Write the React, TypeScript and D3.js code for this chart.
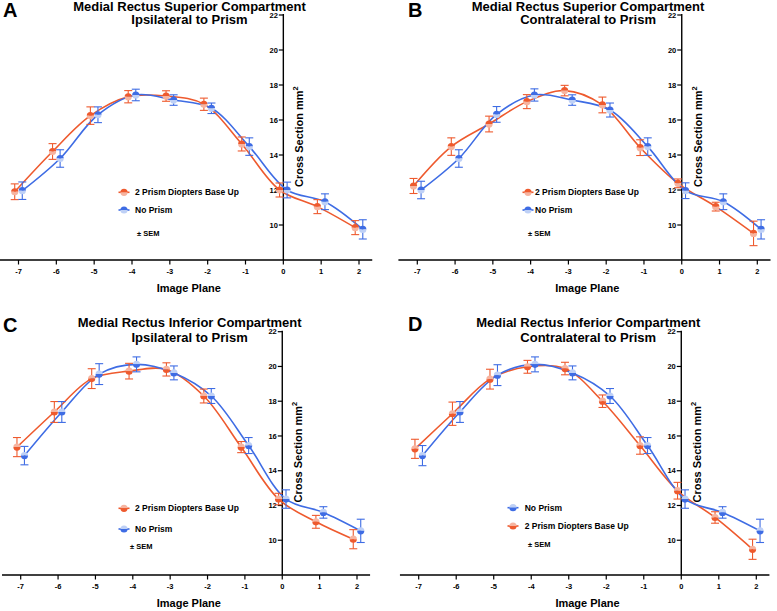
import React from "react";
import * as d3 from "d3";

const planes = [-7, -6, -5, -4, -3, -2, -1, 0, 1, 2];
const yTicks = [10, 12, 14, 16, 18, 20, 22];

const PRISM = "2 Prism Diopters Base Up";
const NOPRISM = "No Prism";

// Panel A
const aPrism = [11.9, 14.2, 16.25, 17.33, 17.37, 16.9, 14.63, 12.0, 11.05, 9.85];
const aPrismSem = [0.45, 0.45, 0.5, 0.35, 0.3, 0.35, 0.4, 0.4, 0.4, 0.4];
const aNo = [11.96, 13.8, 16.3, 17.43, 17.14, 16.67, 14.48, 12.0, 11.33, 9.75];
const aNoSem = [0.5, 0.5, 0.45, 0.33, 0.3, 0.3, 0.5, 0.45, 0.45, 0.55];
// Panel B
const bPrism = [12.23, 14.48, 15.77, 17.05, 17.68, 16.86, 14.42, 12.38, 11.05, 9.52];
const bPrismSem = [0.43, 0.5, 0.45, 0.4, 0.3, 0.45, 0.45, 0.25, 0.25, 0.7];
const bNo = [12.0, 13.8, 16.32, 17.43, 17.14, 16.57, 14.48, 11.96, 11.33, 9.75];
const bNoSem = [0.5, 0.5, 0.45, 0.35, 0.3, 0.4, 0.5, 0.45, 0.45, 0.55];
// Panel C
const cPrism = [15.36, 17.38, 19.3, 19.73, 19.83, 18.3, 15.36, 12.37, 11.06, 10.06];
const cPrismSem = [0.55, 0.6, 0.57, 0.45, 0.38, 0.4, 0.32, 0.33, 0.37, 0.55];
const cNo = [14.87, 17.38, 19.56, 20.12, 19.63, 18.3, 15.45, 12.37, 11.6, 10.54];
const cNoSem = [0.53, 0.6, 0.6, 0.43, 0.4, 0.43, 0.46, 0.53, 0.33, 0.67];
// Panel D
const dPrism = [15.26, 17.28, 19.27, 19.98, 19.88, 18.0, 15.45, 12.85, 11.31, 9.48];
const dPrismSem = [0.55, 0.67, 0.57, 0.37, 0.36, 0.36, 0.5, 0.48, 0.33, 0.58];
const dNo = [14.87, 17.38, 19.5, 20.12, 19.63, 18.3, 15.45, 12.37, 11.6, 10.54];
const dNoSem = [0.58, 0.6, 0.6, 0.43, 0.4, 0.43, 0.46, 0.53, 0.33, 0.67];

const ORANGE = "#EE5A2E";
const ORANGE_L = "#F6B4A0";
const BLUE = "#3E6CE4";
const BLUE_L = "#BED0F6";
const FONT = "'Liberation Sans', Arial, Helvetica, sans-serif";

type Series = { name: string; vals: number[]; sem: number[]; dark: string; light: string; dx: number };

type Cfg = {
  letter: string;
  lx: number; ly: number;
  title1: string; title2: string; t1y: number; t2y: number;
  x7: number; x2: number; yTop: number; yBot: number;
  topDark: boolean;
  series: Series[];
  legendOrder: number[];
  leg: { mx: number; tx: number; y1: number; y2: number; sx: number; sy: number };
};

const R = 3.6;
const topArc = d3.arc()({ innerRadius: 0, outerRadius: R, startAngle: -Math.PI / 2, endAngle: Math.PI / 2 } as any) as string;
const botArc = d3.arc()({ innerRadius: 0, outerRadius: R, startAngle: Math.PI / 2, endAngle: (3 * Math.PI) / 2 } as any) as string;

function Marker({ cx, cy, s, topDark }: { cx: number; cy: number; s: Series; topDark: boolean }) {
  return (
    <g transform={`translate(${cx},${cy})`}>
      <path d={topArc} fill={topDark ? s.dark : s.light} />
      <path d={botArc} fill={topDark ? s.light : s.dark} />
    </g>
  );
}

function Panel({ c }: { c: Cfg }) {
  const x = d3.scaleLinear().domain([-7, 2]).range([c.x7, c.x2]);
  const y = d3.scaleLinear().domain([8, 22]).range([c.yBot, c.yTop]);
  const ax = x(0);
  const line = d3
    .line<[number, number]>()
    .x((d) => x(d[0]))
    .y((d) => y(d[1]))
    .curve(d3.curveCatmullRom.alpha(0.5));
  return (
    <g fontFamily={FONT} fontWeight="bold">
      <text x={c.lx} y={c.ly} fontSize={20}>{c.letter}</text>
      <text x={x(-2.48)} y={c.t1y} fontSize={13} textAnchor="middle">{c.title1}</text>
      <text x={x(-2.48)} y={c.t2y} fontSize={13} textAnchor="middle">{c.title2}</text>
      {/* axes */}
      <line x1={x(-7.5)} x2={x(2.35)} y1={y(8)} y2={y(8)} stroke="#000" strokeWidth={1.4} />
      <line x1={ax} x2={ax} y1={y(22) - 1} y2={y(8)} stroke="#000" strokeWidth={1.4} />
      {planes.map((p) => (
        <g key={p}>
          <line x1={x(p)} x2={x(p)} y1={y(8)} y2={y(8) + 4.5} stroke="#000" strokeWidth={1.2} />
          <text x={x(p)} y={y(8) + 14} fontSize={7.5} textAnchor="middle">{p}</text>
        </g>
      ))}
      {yTicks.map((t) => (
        <g key={t}>
          <line x1={ax - 4.5} x2={ax} y1={y(t)} y2={y(t)} stroke="#000" strokeWidth={1.2} />
          <text x={ax - 5.5} y={y(t) + 2.7} fontSize={7.5} textAnchor="end">{t}</text>
        </g>
      ))}
      <text x={x(-2.5)} y={y(8) + 31.5} fontSize={11} textAnchor="middle">Image Plane</text>
      <text transform={`translate(${ax + 20},${y(12.17)}) rotate(-90)`} fontSize={11}>
        Cross Section mm<tspan fontSize={7.5} dy={-5}>2</tspan>
      </text>
      {/* curves */}
      {c.series.map((s) => (
        <path
          key={s.name + "l"}
          d={line(s.vals.map((v, i) => [planes[i] + s.dx, v] as [number, number])) || ""}
          fill="none"
          stroke={s.dark}
          strokeWidth={1.6}
        />
      ))}
      {/* error bars and markers */}
      {c.series.map((s) => (
        <g key={s.name + "e"}>
          {s.vals.map((v, i) => {
            const px = x(planes[i] + s.dx);
            return (
              <g key={i} stroke={s.dark} strokeWidth={1.1}>
                <line x1={px} x2={px} y1={y(v - s.sem[i])} y2={y(v + s.sem[i])} />
                <line x1={px - 4} x2={px + 4} y1={y(v - s.sem[i])} y2={y(v - s.sem[i])} />
                <line x1={px - 4} x2={px + 4} y1={y(v + s.sem[i])} y2={y(v + s.sem[i])} />
              </g>
            );
          })}
          {s.vals.map((v, i) => (
            <Marker key={"m" + i} cx={x(planes[i] + s.dx)} cy={y(v)} s={s} topDark={c.topDark} />
          ))}
        </g>
      ))}
      {/* legend */}
      {c.legendOrder.map((si, k) => {
        const s = c.series[si];
        const ly = k === 0 ? c.leg.y1 : c.leg.y2;
        return (
          <g key={"lg" + k}>
            <line x1={c.leg.mx - 5.5} x2={c.leg.mx + 5.5} y1={ly} y2={ly} stroke={s.dark} strokeWidth={1.6} />
            <Marker cx={c.leg.mx} cy={ly} s={s} topDark={c.topDark} />
            <text x={c.leg.tx} y={ly + 3} fontSize={8.5}>{s.name}</text>
          </g>
        );
      })}
      <text x={c.leg.sx} y={c.leg.sy + 2.7} fontSize={7.5}>± SEM</text>
    </g>
  );
}

const mk = (pv: number[], ps: number[], nv: number[], ns: number[]): Series[] => [
  { name: PRISM, vals: pv, sem: ps, dark: ORANGE, light: ORANGE_L, dx: -0.1 },
  { name: NOPRISM, vals: nv, sem: ns, dark: BLUE, light: BLUE_L, dx: 0.1 },
];

const panels: Cfg[] = [
  {
    letter: "A", lx: 3, ly: 17,
    title1: "Medial Rectus Superior Compartment", title2: "Ipsilateral to Prism", t1y: 10.5, t2y: 24,
    x7: 18.5, x2: 359, yTop: 15, yBot: 260, topDark: true,
    series: mk(aPrism, aPrismSem, aNo, aNoSem), legendOrder: [0, 1],
    leg: { mx: 124, tx: 135, y1: 192.3, y2: 210, sx: 137, sy: 233.3 },
  },
  {
    letter: "B", lx: 408, ly: 17,
    title1: "Medial Rectus Superior Compartment", title2: "Contralateral to Prism", t1y: 10.5, t2y: 24,
    x7: 417.3, x2: 757.3, yTop: 15, yBot: 260, topDark: true,
    series: mk(bPrism, bPrismSem, bNo, bNoSem), legendOrder: [0, 1],
    leg: { mx: 528, tx: 535, y1: 192.3, y2: 210, sx: 528, sy: 233.3 },
  },
  {
    letter: "C", lx: 3, ly: 332,
    title1: "Medial Rectus Inferior Compartment", title2: "Ipsilateral to Prism", t1y: 327.3, t2y: 341.7,
    x7: 20.7, x2: 357, yTop: 331.7, yBot: 575, topDark: false,
    series: mk(cPrism, cPrismSem, cNo, cNoSem), legendOrder: [0, 1],
    leg: { mx: 124, tx: 135, y1: 508.3, y2: 529, sx: 130, sy: 546 },
  },
  {
    letter: "D", lx: 408, ly: 331,
    title1: "Medial Rectus Inferior Compartment", title2: "Contralateral to Prism", t1y: 326.7, t2y: 341.7,
    x7: 418.7, x2: 756.3, yTop: 331.7, yBot: 575, topDark: false,
    series: mk(dPrism, dPrismSem, dNo, dNoSem), legendOrder: [1, 0],
    leg: { mx: 513, tx: 524.7, y1: 507.7, y2: 526, sx: 528, sy: 544.3 },
  },
];

export default function App() {
  return (
    <svg
      width={777}
      height={611}
      style={{ position: "absolute", left: 0, top: 0, background: "#fff" }}
    >
      <rect width={777} height={611} fill="#fff" />
      {panels.map((p) => (
        <Panel key={p.letter} c={p} />
      ))}
    </svg>
  );
}
